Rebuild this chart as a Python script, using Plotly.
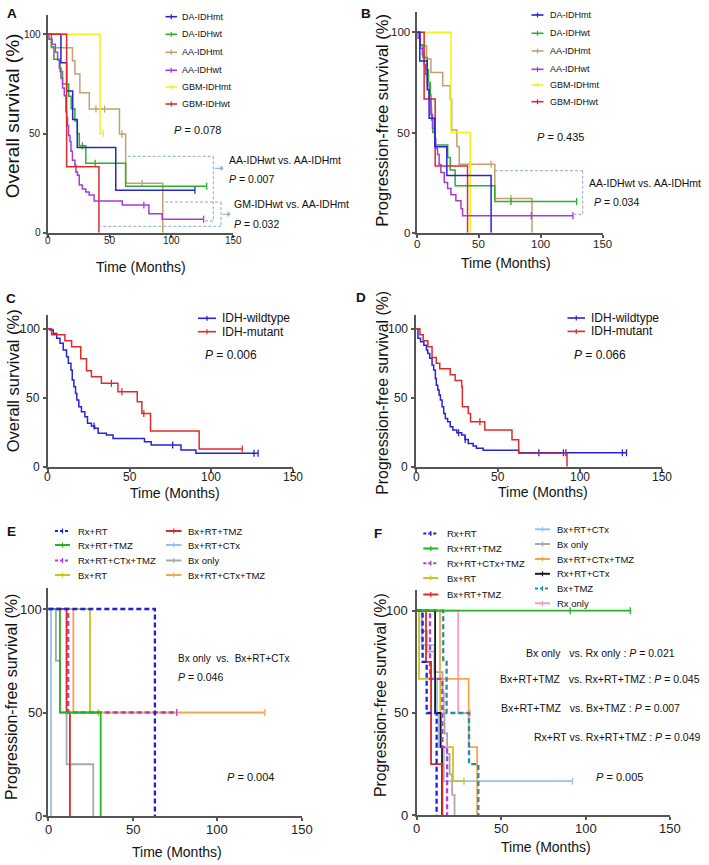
import plotly.graph_objects as go

W, H = 709, 865
REG = "Liberation Sans, Arial, sans-serif"

# ================= DATA =================
# Panel A: overall survival by subtype (time in months, survival in %)
A_DA_IDHmt_t = [0, 10.7, 15.3, 20.2, 23.9, 55, 119]
A_DA_IDHmt_s = [100, 85.7, 71.4, 57.1, 42.9, 21.4, 21.4]
A_DA_IDHmt_c = [119]
A_DA_IDHwt_t = [0, 3, 5, 10, 12, 17, 19, 22, 24, 25.5, 30.8, 63, 128.5]
A_DA_IDHwt_s = [100, 93.8, 87.5, 81.3, 75, 68.8, 62.5, 56.3, 50, 43.8, 35, 23.4, 23.4]
A_DA_IDHwt_c = [28, 38.4, 128.5]
A_AA_IDHmt_t = [0, 3, 20, 22, 26, 33.6, 58, 63, 93]
A_AA_IDHmt_s = [100, 93.3, 86.7, 80, 70.6, 62.3, 49.8, 24.9, 0]
A_AA_IDHmt_c = [39, 46, 60, 76.4]
A_AA_IDHwt_t = [0, 1, 3.5, 6.2, 8, 9.4, 10.7, 12, 13.4, 14.7, 15.3, 16, 16.9, 18, 18.8, 20,
                22, 22.8, 24, 25.5, 28, 30.8, 33.5, 37.5, 60.3, 81.8, 92.5, 126]
A_AA_IDHwt_s = [100, 97.5, 95, 91, 87, 83, 78, 73, 69, 61, 58, 54, 49, 46, 41, 36.5,
                34, 30.6, 29, 24, 22, 20.5, 19, 16, 14, 9.6, 6.8, 6.8]
A_AA_IDHwt_c = [77.7, 126]
A_GBM_IDHmt_t = [0, 42.3, 45]
A_GBM_IDHmt_s = [100, 50, 50]
A_GBM_IDHmt_c = [45]
A_GBM_IDHwt_t = [0, 15.3, 41.4]
A_GBM_IDHwt_s = [100, 33.3, 0]
A_GBM_IDHwt_c = []

# Panel B: progression-free survival by subtype
B_DA_IDHmt_t = [0, 2.5, 8.5, 10, 14.6, 24.3, 60]
B_DA_IDHmt_s = [100, 85.7, 71.4, 57.1, 42.9, 28.6, 0]
B_DA_IDHmt_c = []
B_DA_IDHwt_t = [0, 2.7, 5, 8.5, 9.5, 11, 11.5, 12, 13, 14.6, 25, 27, 31, 63, 129]
B_DA_IDHwt_s = [100, 93.8, 87.5, 81.3, 75, 68.8, 62.5, 56.3, 50, 43.8, 37.5, 31.3, 23.4, 15.6, 15.6]
B_DA_IDHwt_c = [76, 129]
B_AA_IDHmt_t = [0, 3, 8, 11.5, 21, 27, 28.2, 32.4, 34.3, 63, 93]
B_AA_IDHmt_s = [100, 93.3, 86.7, 80, 73.3, 66.7, 51.3, 43, 34.2, 17.1, 0]
B_AA_IDHmt_c = [43, 60, 76]
B_AA_IDHwt_t = [0, 1.1, 2.7, 4.6, 5.9, 7.3, 8.6, 10, 11.4, 12.7, 14.6, 15.4, 16.8, 18.1,
                19.5, 22.2, 24.9, 27.6, 31.6, 35.7, 37, 126]
B_AA_IDHwt_s = [100, 97, 92, 89, 84, 79, 74, 67, 59, 52, 47, 42, 39, 34, 30, 25, 22, 19,
                16, 12, 8.4, 8.4]
B_AA_IDHwt_c = [92.4, 126]
B_GBM_IDHmt_t = [0, 27.6, 43.2]
B_GBM_IDHmt_s = [100, 50, 0]
B_GBM_IDHmt_c = []
B_GBM_IDHwt_t = [0, 6, 14.9, 41]
B_GBM_IDHwt_s = [100, 66.7, 33.3, 0]
B_GBM_IDHwt_c = []

# Panel C: overall survival by IDH status
C_wt_t = [0, 1.4, 3.4, 5.5, 7.5, 9.5, 11.5, 12.6, 14.2, 15, 16, 17, 17.8, 19, 20.6, 22.7,
          24.3, 26.7, 28.7, 30.8, 35.8, 39.9, 59.1, 63.2, 81.4, 90.5, 128.5]
C_wt_s = [100, 99, 96.6, 93, 89.4, 84.5, 79.7, 74.9, 70, 62.8, 58, 53.1, 48.3, 43.5, 39.9,
          36.2, 31.4, 29.5, 27.8, 24.2, 23, 20.5, 18.1, 15.7, 12.1, 9.7, 9.7]
C_wt_c = [28.3, 76.3, 126, 128.5]
C_mt_t = [0, 2.4, 10.5, 14.6, 20.2, 23.7, 26.7, 32.8, 42.9, 54.7, 57.5, 62.8, 92.5, 118.8]
C_mt_s = [100, 95.7, 91.3, 87, 78.3, 69.6, 65.2, 60.4, 54.3, 47.1, 38.6, 25.8, 12.9, 12.9]
C_mt_c = [38.9, 45.3, 58.7, 118.8]

# Panel D: progression-free survival by IDH status
D_wt_t = [0, 1.2, 2.8, 4.8, 6.4, 7.2, 8.4, 9.8, 10.8, 11.8, 12.4, 13.3, 14.1, 14.9, 15.9,
          16.9, 17.9, 19.3, 20.9, 22.5, 24.9, 27.9, 29.9, 31.9, 34.9, 36.9, 41, 62.7, 128.5]
D_wt_s = [100, 93, 90.6, 88, 84.5, 82, 78.5, 73.7, 70, 64, 59, 55.6, 52, 48.3, 43.5, 38.6,
          35, 32.6, 29, 26.6, 24.6, 23, 19.8, 16.9, 15, 13.3, 12, 10.1, 10.1]
D_wt_c = [26, 30, 75, 90, 91.5, 126, 128.5]
D_mt_t = [0, 2.4, 4.4, 7.2, 9.8, 12.4, 14.5, 20.9, 23.9, 27.9, 28.3, 31.9, 33.3, 42, 58.6, 62.7, 92.2]
D_mt_s = [100, 95.7, 91.3, 87, 79.2, 75, 71, 66.7, 62.5, 58, 43.5, 38.6, 32.6, 26.6, 19.6, 9.7, 0]
D_mt_c = [39]

# Panel E: progression-free survival by treatment
E_RxRT_t = [0, 63.1];               E_RxRT_s = [100, 0];            E_RxRT_c = []
E_RxRTTMZ_t = [0, 6.9, 31];         E_RxRTTMZ_s = [100, 50, 0];     E_RxRTTMZ_c = []
E_RxRTCTxTMZ_t = [0, 11.8, 76];     E_RxRTCTxTMZ_s = [100, 50, 50]; E_RxRTCTxTMZ_c = [76]
E_BxRT_t = [0, 24.7, 29.6];         E_BxRT_s = [100, 50, 50];       E_BxRT_c = [29.6]
E_BxRTTMZ_t = [0, 10.8, 12.8];      E_BxRTTMZ_s = [100, 50, 0];     E_BxRTTMZ_c = []
E_BxRTCTx_t = [0, 1.6];             E_BxRTCTx_s = [100, 0];         E_BxRTCTx_c = []
E_Bxonly_t = [0, 4.5, 7, 10.8, 26.6]; E_Bxonly_s = [100, 75, 50, 25, 0]; E_Bxonly_c = []
E_BxRTCTxTMZ_t = [0, 14.8, 128.2];  E_BxRTCTxTMZ_s = [100, 50, 50]; E_BxRTCTxTMZ_c = [128.2]

# Panel F: progression-free survival by treatment
F_RxRT_t = [0, 3.5, 5.9, 11.8];           F_RxRT_s = [100, 75, 50, 0];            F_RxRT_c = []
F_RxRTTMZ_t = [0, 126.5];                 F_RxRTTMZ_s = [100, 100];               F_RxRTTMZ_c = [90.9, 126.5]
F_RxRTCTxTMZ_t = [0, 7.9, 15.2, 18];      F_RxRTCTxTMZ_s = [100, 66.7, 33.3, 0];  F_RxRTCTxTMZ_c = []
F_BxRT_t = [0, 1.4, 14, 21.5, 28];        F_BxRT_s = [100, 66.7, 33.3, 16.7, 16.7]; F_BxRT_c = [28]
F_BxRTTMZ_t = [0, 5.5, 8.5, 15.2];        F_BxRTTMZ_s = [100, 75, 25, 0];         F_BxRTTMZ_c = []
F_BxRTCTx_t = [0, 3, 10.6, 12, 13, 16.1, 92.3]
F_BxRTCTx_s = [100, 83.3, 66.7, 50, 33.3, 16.7, 16.7];                            F_BxRTCTx_c = [92.3]
F_Bxonly_t = [0, 3, 6, 10.6, 15.3, 16, 16.5, 18, 19.5, 21, 22.4]
F_Bxonly_s = [100, 90, 80, 70, 60, 50, 40, 30, 20, 10, 0];                        F_Bxonly_c = []
F_BxRTCTxTMZ_t = [0, 13.8, 30.8, 35.8];   F_BxRTCTxTMZ_s = [100, 66.7, 33.3, 0];  F_BxRTCTxTMZ_c = []
F_RxRTCTx_t = [0, 10.9, 14.2, 15.0];      F_RxRTCTx_s = [100, 50, 33.3, 0];       F_RxRTCTx_c = []
F_BxTMZ_t = [0, 15.7, 17.7, 31, 36.5];    F_BxTMZ_s = [100, 75, 50, 25, 0];       F_BxTMZ_c = []
F_Rxonly_t = [0, 24.6, 31.6];             F_Rxonly_s = [100, 50, 50];             F_Rxonly_c = [31.6]

X_TICKS = [0, 50, 100, 150]
Y_TICKS = [0, 50, 100]

# ================= STYLE =================
BLUE, GREEN, TAN, PURPLE, YELLOW, RED = '#2424d8', '#2cb02c', '#c4a070', '#a63cd6', '#f2f21a', '#e02a2a'
E_COL = {
    'Rx+RT': ('#1e1ee6', 'dash'), 'Rx+RT+TMZ': ('#22b422', 'solid'),
    'Rx+RT+CTx+TMZ': ('#b43cdc', 'dash'), 'Bx+RT': ('#c8c41e', 'solid'),
    'Bx+RT+TMZ': ('#e02828', 'solid'), 'Bx+RT+CTx': ('#96c3ec', 'solid'),
    'Bx only': ('#a9a9a9', 'solid'), 'Bx+RT+CTx+TMZ': ('#f7a54a', 'solid'),
    'Rx+RT+CTx': ('#1a1a1a', 'solid'), 'Bx+TMZ': ('#2a8aa2', 'dash'),
    'Rx only': ('#f29cc4', 'solid'),
}
DASHPX = '5px,3px'
BOXCOL = '#8aa8cc'
AXCOL = '#555555'

def px_x(p):
    return p / W

def px_y(p):
    return 1 - p / H

# pixel boxes: (x0, x1, y_top(110), y_bottom(0), tick font, x-label offset, y-label gap)
PANELS = {
    1: (47.7, 233.3, 14.5, 232.7, 10, 7.5, 4.5),
    2: (416.7, 602.7, 12.3, 232.7, 11.5, 11, 5),
    3: (47.7, 293.3, 314.9, 466.7, 12, 10, 6),
    4: (416.0, 661.7, 314.9, 466.7, 12, 10, 6.5),
    5: (48.3, 301.7, 588.3, 816.0, 13, 13.5, 4.5),
    6: (416.7, 670.0, 590.2, 815.3, 13, 13.5, 7),
}

fig = go.Figure()


def surv_at(t, s, c):
    v = s[0]
    for ti, si in zip(t, s):
        if ti <= c:
            v = si
    return v


def km(n, t, s, c, color, width=1.5, dash='solid'):
    xa = 'x' if n == 1 else f'x{n}'
    ya = 'y' if n == 1 else f'y{n}'
    fig.add_trace(go.Scatter(x=t, y=s, mode='lines', xaxis=xa, yaxis=ya,
                             line=dict(color=color, width=width, shape='hv',
                                       dash=DASHPX if dash == 'dash' else 'solid'),
                             showlegend=False, hoverinfo='skip'))
    if c:
        fig.add_trace(go.Scatter(x=c, y=[surv_at(t, s, ci) for ci in c], mode='markers',
                                 xaxis=xa, yaxis=ya, cliponaxis=False,
                                 marker=dict(symbol='line-ns', size=5,
                                             line=dict(width=1.3, color=color)),
                                 showlegend=False, hoverinfo='skip'))

# Panel A
km(1, A_AA_IDHmt_t, A_AA_IDHmt_s, A_AA_IDHmt_c, TAN)
km(1, A_GBM_IDHmt_t, A_GBM_IDHmt_s, A_GBM_IDHmt_c, YELLOW)
km(1, A_DA_IDHwt_t, A_DA_IDHwt_s, A_DA_IDHwt_c, GREEN)
km(1, A_DA_IDHmt_t, A_DA_IDHmt_s, A_DA_IDHmt_c, BLUE)
km(1, A_AA_IDHwt_t, A_AA_IDHwt_s, A_AA_IDHwt_c, PURPLE)
km(1, A_GBM_IDHwt_t, A_GBM_IDHwt_s, A_GBM_IDHwt_c, RED)
# Panel B
km(2, B_AA_IDHmt_t, B_AA_IDHmt_s, B_AA_IDHmt_c, TAN)
km(2, B_GBM_IDHmt_t, B_GBM_IDHmt_s, B_GBM_IDHmt_c, YELLOW)
km(2, B_DA_IDHwt_t, B_DA_IDHwt_s, B_DA_IDHwt_c, GREEN)
km(2, B_AA_IDHwt_t, B_AA_IDHwt_s, B_AA_IDHwt_c, PURPLE)
km(2, B_GBM_IDHwt_t, B_GBM_IDHwt_s, B_GBM_IDHwt_c, RED)
km(2, B_DA_IDHmt_t, B_DA_IDHmt_s, B_DA_IDHmt_c, BLUE)
# Panel C, D
km(3, C_wt_t, C_wt_s, C_wt_c, BLUE)
km(3, C_mt_t, C_mt_s, C_mt_c, RED)
km(4, D_wt_t, D_wt_s, D_wt_c, BLUE)
km(4, D_mt_t, D_mt_s, D_mt_c, RED)
# Panel E
for name, t, s, c in [('Bx+RT+CTx+TMZ', E_BxRTCTxTMZ_t, E_BxRTCTxTMZ_s, E_BxRTCTxTMZ_c),
                      ('Bx+RT', E_BxRT_t, E_BxRT_s, E_BxRT_c),
                      ('Bx only', E_Bxonly_t, E_Bxonly_s, E_Bxonly_c),
                      ('Bx+RT+CTx', E_BxRTCTx_t, E_BxRTCTx_s, E_BxRTCTx_c),
                      ('Rx+RT+CTx+TMZ', E_RxRTCTxTMZ_t, E_RxRTCTxTMZ_s, E_RxRTCTxTMZ_c),
                      ('Bx+RT+TMZ', E_BxRTTMZ_t, E_BxRTTMZ_s, E_BxRTTMZ_c),
                      ('Rx+RT+TMZ', E_RxRTTMZ_t, E_RxRTTMZ_s, E_RxRTTMZ_c),
                      ('Rx+RT', E_RxRT_t, E_RxRT_s, E_RxRT_c)]:
    col, d = E_COL[name]
    km(5, t, s, c, col, width=2.3 if d == 'dash' else 1.8, dash=d)
# Panel F
for name, t, s, c in [('Bx+RT+CTx', F_BxRTCTx_t, F_BxRTCTx_s, F_BxRTCTx_c),
                      ('Rx only', F_Rxonly_t, F_Rxonly_s, F_Rxonly_c),
                      ('Bx only', F_Bxonly_t, F_Bxonly_s, F_Bxonly_c),
                      ('Bx+RT+CTx+TMZ', F_BxRTCTxTMZ_t, F_BxRTCTxTMZ_s, F_BxRTCTxTMZ_c),
                      ('Bx+RT', F_BxRT_t, F_BxRT_s, F_BxRT_c),
                      ('Bx+TMZ', F_BxTMZ_t, F_BxTMZ_s, F_BxTMZ_c),
                      ('Rx+RT+CTx', F_RxRTCTx_t, F_RxRTCTx_s, F_RxRTCTx_c),
                      ('Rx+RT+CTx+TMZ', F_RxRTCTxTMZ_t, F_RxRTCTxTMZ_s, F_RxRTCTxTMZ_c),
                      ('Bx+RT+TMZ', F_BxRTTMZ_t, F_BxRTTMZ_s, F_BxRTTMZ_c),
                      ('Rx+RT', F_RxRT_t, F_RxRT_s, F_RxRT_c),
                      ('Rx+RT+TMZ', F_RxRTTMZ_t, F_RxRTTMZ_s, F_RxRTTMZ_c)]:
    col, d = E_COL[name]
    km(6, t, s, c, col, width=2.3 if d == 'dash' else 1.8, dash=d)

# ================= AXES =================
ann = []
shapes = []

layout = dict(width=W, height=H, margin=dict(l=0, r=0, t=0, b=0),
              paper_bgcolor='white', plot_bgcolor='white', showlegend=False)
for n, (x0, x1, yt, yb, fs, xdy, ygap) in PANELS.items():
    xs = 'xaxis' if n == 1 else f'xaxis{n}'
    ys = 'yaxis' if n == 1 else f'yaxis{n}'
    xr = 'x' if n == 1 else f'x{n}'
    yr = 'y' if n == 1 else f'y{n}'
    common = dict(showline=True, linecolor=AXCOL, linewidth=1.8, ticks='outside',
                  ticklen=3, tickwidth=1.5, tickcolor=AXCOL, showgrid=False,
                  zeroline=False, showticklabels=False, fixedrange=True)
    layout[xs] = dict(common, domain=[px_x(x0), px_x(x1)], range=[0, 150],
                      tickvals=X_TICKS, anchor=yr)
    layout[ys] = dict(common, domain=[px_y(yb), px_y(yt)], range=[0, 110],
                      tickvals=Y_TICKS, anchor=xr)
    # tick labels placed on the axis scales
    for v in X_TICKS:
        ann.append(dict(x=v, xref=xr, y=px_y(yb + xdy), yref='paper', text=str(v),
                        showarrow=False, xanchor='center', yanchor='middle',
                        font=dict(family=REG, size=fs, color='#222')))
    for v in Y_TICKS:
        ann.append(dict(x=px_x(x0 - ygap), xref='paper', y=v, yref=yr, text=str(v),
                        showarrow=False, xanchor='right', yanchor='middle',
                        font=dict(family=REG, size=fs, color='#222')))
fig.update_layout(**layout)


def text(px, py, s, size, family=REG, xanchor='left', angle=0, color='#111'):
    ann.append(dict(x=px_x(px), y=px_y(py), xref='paper', yref='paper', text=s,
                    showarrow=False, xanchor=xanchor, yanchor='middle', textangle=angle,
                    font=dict(family=family, size=size, color=color)))


def seg(xa, ya, xb, yb, color, width=1, dash='solid'):
    shapes.append(dict(type='line', xref='paper', yref='paper', x0=px_x(xa), y0=px_y(ya),
                       x1=px_x(xb), y1=px_y(yb), line=dict(color=color, width=width, dash=dash)))


def legend_item(x0, x1, y, color, label, size, dash='solid', width=1.6, tx=None):
    seg(x0, y, x1, y, color, width, '3px,2px' if dash == 'dash' else 'solid')
    xm = (x0 + x1) / 2
    seg(xm, y - 2.5, xm, y + 2.5, color, 1.2)
    text(tx if tx is not None else x1 + 4, y, label, size)

# panel letters
for lab, px, py in [('A', 11.7, 13), ('B', 365.5, 13), ('C', 10.5, 298.5),
                    ('D', 361, 297.5), ('E', 11, 531), ('F', 378, 533)]:
    text(px, py, '<b>%s</b>' % lab, 13.5, xanchor='center')

# axis titles
for px, py, s, fs in [(13.3, 116, 'Overall survival (%)', 19),
                      (381.7, 120, 'Progression-free survival (%)', 16.5),
                      (13.3, 381, 'Overall survival (%)', 16.5),
                      (381.7, 393, 'Progression-free survival (%)', 15.8),
                      (11, 697, 'Progression-free survival (%)', 16),
                      (380, 695, 'Progression-free survival (%)', 15.8)]:
    text(px, py, s, fs, xanchor='center', angle=-90)
for px, py in [(140.8, 266.7), (506.3, 263.3), (175, 493.3), (542.5, 492.3),
               (176.7, 851.7), (545.8, 846.7)]:
    text(px, py, 'Time (Months)', 14, xanchor='center')

# legends A and B
AB_LABELS = ['DA-IDHmt', 'DA-IDHwt', 'AA-IDHmt', 'AA-IDHwt', 'GBM-IDHmt', 'GBM-IDHwt']
AB_COLORS = [BLUE, GREEN, TAN, PURPLE, YELLOW, RED]
A_LEG_Y = [16.7, 34.3, 52.3, 70.3, 87, 104]
B_LEG_Y = [15, 33.3, 51, 69.3, 85, 101.7]
for lab, col, ya, yb in zip(AB_LABELS, AB_COLORS, A_LEG_Y, B_LEG_Y):
    legend_item(165.5, 177, ya, col, lab, 9, tx=180)
    legend_item(531.5, 543.5, yb, col, lab, 9, tx=547.5)

# legends C and D
for y, col, lab in [(318.3, BLUE, 'IDH-wildtype'), (331.7, RED, 'IDH-mutant')]:
    legend_item(198, 216, y, col, lab, 12, tx=220)
    legend_item(567.5, 585, y - 0.3, col, lab, 12, tx=589)

# legend E
E_LEG1 = ['Rx+RT', 'Rx+RT+TMZ', 'Rx+RT+CTx+TMZ', 'Bx+RT']
E_LEG2 = ['Bx+RT+TMZ', 'Bx+RT+CTx', 'Bx only', 'Bx+RT+CTx+TMZ']
E_LEG_Y = [531, 545, 560.5, 575]
for lab, y in zip(E_LEG1, E_LEG_Y):
    col, d = E_COL[lab]
    legend_item(55, 70, y, col, lab, 9.5, dash=d, width=2, tx=76)
for lab, y in zip(E_LEG2, E_LEG_Y):
    col, d = E_COL[lab]
    legend_item(166, 181.5, y, col, lab, 9.5, dash=d, width=2, tx=186)

# legend F
F_LEG1 = ['Rx+RT', 'Rx+RT+TMZ', 'Rx+RT+CTx+TMZ', 'Bx+RT', 'Bx+RT+TMZ']
F_LEG1_Y = [533.5, 548.5, 563.3, 578, 594.5]
F_LEG2 = ['Bx+RT+CTx', 'Bx only', 'Bx+RT+CTx+TMZ', 'Rx+RT+CTx', 'Bx+TMZ', 'Rx only']
F_LEG2_Y = [529.3, 544, 559, 573.8, 588.5, 603.3]
for lab, y in zip(F_LEG1, F_LEG1_Y):
    col, d = E_COL[lab]
    legend_item(423.3, 438.3, y, col, lab, 9.5, dash=d, width=2, tx=445)
for lab, y in zip(F_LEG2, F_LEG2_Y):
    col, d = E_COL[lab]
    legend_item(535, 550, y, col, lab, 9.5, dash=d, width=2, tx=555)

# statistics text
text(172, 129.5, '<i>P</i> = 0.078', 11)
text(227, 160, 'AA-IDHwt vs. AA-IDHmt', 10.5)
text(227, 179, '<i>P</i> = 0.007', 10.5)
text(232, 204, 'GM-IDHwt vs. AA-IDHmt', 10.5)
text(232, 224, '<i>P</i> = 0.032', 10.5)
text(535, 137, '<i>P</i> = 0.435', 11)
text(703, 183.3, 'AA-IDHwt vs. AA-IDHmt', 10.5, xanchor='right')
text(591.5, 201.7, '<i>P</i> = 0.034', 10.5)
text(203, 355, '<i>P</i> = 0.006', 12)
text(572, 355, '<i>P</i> = 0.066', 12)
text(176, 658, 'Bx only&nbsp; vs.&nbsp; Bx+RT+CTx', 10)
text(176, 677, '<i>P</i> = 0.046', 10.5)
text(225, 777, '<i>P</i> = 0.004', 11)
text(677, 652.7, 'Bx only&nbsp;&nbsp; vs. Rx only : <i>P</i> = 0.021', 10.5, xanchor='right')
text(702, 679.3, 'Bx+RT+TMZ&nbsp;&nbsp; vs. Rx+RT+TMZ : <i>P</i> = 0.045', 10.5, xanchor='right')
text(682, 708.3, 'Bx+RT+TMZ&nbsp;&nbsp; vs. Bx+TMZ : <i>P</i> = 0.007', 10.5, xanchor='right')
text(702, 736.7, 'Rx+RT vs. Rx+RT+TMZ : <i>P</i> = 0.049', 10.5, xanchor='right')
text(593.5, 777, '<i>P</i> = 0.005', 11)

# dashed comparison brackets
BD = '3px,2px'
seg(127.7, 156.3, 213.3, 156.3, BOXCOL, 1, BD)
seg(213.3, 156.3, 213.3, 221, BOXCOL, 1, BD)
seg(205, 221, 213.3, 221, BOXCOL, 1, BD)
seg(165, 202, 221, 202, BOXCOL, 1, BD)
seg(221, 202, 221, 226.3, BOXCOL, 1, BD)
seg(98.3, 226.3, 221, 226.3, BOXCOL, 1, BD)
seg(495, 170.7, 582.7, 170.7, BOXCOL, 1, BD)
seg(582.7, 170.7, 582.7, 214.3, BOXCOL, 1, BD)
seg(573.3, 214.3, 582.7, 214.3, BOXCOL, 1, BD)
for xa, xb, y in [(213.3, 223.5, 168.3), (221, 230.5, 214.3)]:
    ann.append(dict(x=px_x(xb), y=px_y(y), xref='paper', yref='paper', ax=xa - xb, ay=0,
                    axref='pixel', ayref='pixel', showarrow=True, arrowhead=1,
                    arrowsize=1, arrowwidth=1, arrowcolor=BOXCOL, text=''))

fig.update_layout(annotations=ann, shapes=shapes)
fig.write_html("out.html", config={'displayModeBar': False},
               post_script="document.body.style.margin='0';"
                           "document.documentElement.style.overflow='hidden';")
